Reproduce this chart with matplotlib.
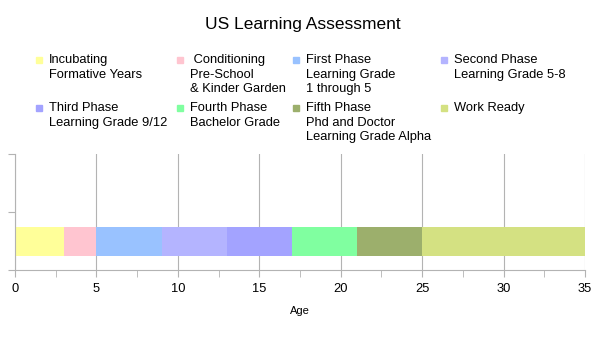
import matplotlib.pyplot as plt
from matplotlib.patches import Rectangle
from matplotlib.ticker import MultipleLocator

plt.rcParams['font.family'] = ['Liberation Sans', 'DejaVu Sans']

phases = ["Incubating\nFormative Years",
          " Conditioning\nPre-School\n& Kinder Garden",
          "First Phase\nLearning Grade\n1 through 5",
          "Second Phase\nLearning Grade 5-8",
          "Third Phase\nLearning Grade 9/12",
          "Fourth Phase\nBachelor Grade",
          "Fifth Phase\nPhd and Doctor\nLearning Grade Alpha",
          "Work Ready"]
years = [3, 2, 4, 4, 4, 4, 4, 10]
colors = ["#ffff99", "#ffc5d0", "#99c2ff", "#b4b4ff",
          "#a3a3ff", "#80ffa0", "#9caf6c", "#d4e182"]

W, H = 605, 340
fig = plt.figure(figsize=(W / 100, H / 100), dpi=100)
ax = fig.add_axes([15 / W, 1 - 270 / H, 570 / W, 116 / H])

left = 0
for lab, v, c in zip(phases, years, colors):
    ax.barh(0.5, v, left=left, height=0.5, color=c, label=lab)
    left += v

ax.set_xlim(0, 35)
ax.set_ylim(0, 2)
ax.xaxis.set_major_locator(MultipleLocator(5))
ax.xaxis.set_minor_locator(MultipleLocator(2.5))
ax.set_yticks([0, 1, 2])
ax.set_yticklabels([])
ax.grid(axis='x', which='major', color='#b3b3b3', linewidth=0.8)
ax.set_axisbelow(True)
for s in ['top', 'right']:
    ax.spines[s].set_visible(False)
for s in ['left', 'bottom']:
    ax.spines[s].set_color('#b3b3b3')
ax.tick_params(axis='both', which='both', color='#b3b3b3', length=5,
               labelsize=9.3)
ax.tick_params(axis='x', pad=4)
ax.set_xlabel("Age", fontsize=8, labelpad=8)

fig.text(0.5, 1 - 25 / H, "US Learning Assessment", ha='center',
         va='center', fontsize=12.5)

# legend, 4 columns x 2 rows
col_x = [49, 190, 306, 454]
row_y = [54, 102]
handles, labels = ax.get_legend_handles_labels()
for i, (h, lab) in enumerate(zip(handles, labels)):
    cx = col_x[i % 4]
    ry = row_y[i // 4]
    fig.add_artist(Rectangle(((cx - 13) / W, 1 - (ry + 9) / H), 6 / W, 6 / H,
                             transform=fig.transFigure,
                             color=h.patches[0].get_facecolor()))
    fig.text(cx / W, 1 - ry / H, lab, ha='left', va='top', fontsize=9.3,
             linespacing=1.3)

fig.savefig("out.png", dpi=100)
